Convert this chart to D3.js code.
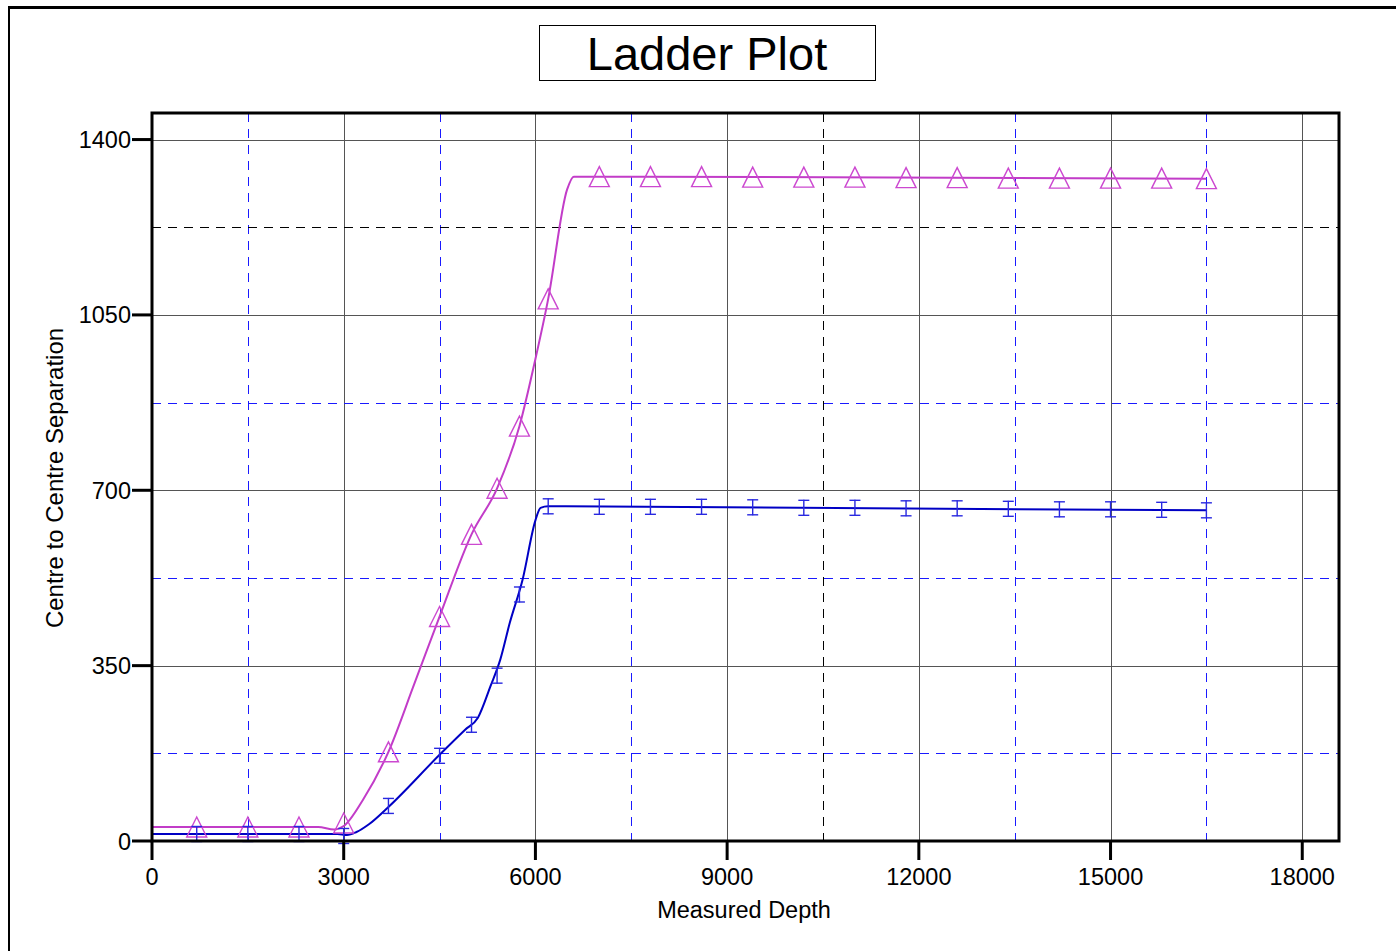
<!DOCTYPE html>
<html>
<head>
<meta charset="utf-8">
<script src="https://cdn.jsdelivr.net/npm/d3@7"></script>
<style>
  body { margin: 0; background: #fff; }
  svg { display: block; font-family: "Liberation Sans", Arial, sans-serif; }
</style>
</head>
<body>
<svg id="chart"></svg>
<script>
// ---- data ----
var xTicks = [0, 3000, 6000, 9000, 12000, 15000, 18000];
var yTicks = [0, 350, 700, 1050, 1400];
var xDashBlue = [1500, 4500, 7500, 13500, 16500];
var xDashBlack = [10500];
var yDashBlue = [175, 525, 875];
var yDashBlack = [1225];

// curve vertices
var pinkLineDepth = [0, 2600, 2850, 3000, 3300, 3700, 4100, 4500, 5000, 5400, 5750, 6000, 6200, 6495, 6600, 16500];
var pinkLineSep   = [28, 28, 23, 30, 82, 178, 312, 448, 612, 704, 828, 962, 1082, 1300, 1326, 1322];
var blueLineDepth = [0, 2900, 3050, 3200, 3400, 3700, 4500, 4900, 5100, 5300, 5450, 5600, 5800, 6000, 6080, 6200, 16500];
var blueLineSep   = [14, 14, 12, 18, 34, 68, 172, 222, 246, 310, 362, 436, 522, 640, 665, 668, 660];

// marker stations
var markerDepth = [700, 1500, 2300, 3000, 3700, 4500, 5000, 5400, 5750, 6200, 7000, 7800, 8600, 9400, 10200, 11000, 11800, 12600, 13400, 14200, 15000, 15800, 16500];
var pinkMarkSep = [28, 28, 28, 36, 178, 448, 612, 704, 828, 1082, 1326, 1326, 1326, 1325, 1325, 1325, 1324, 1324, 1323, 1323, 1323, 1323, 1322];
var blueMarkSep = [14, 14, 14, 10, 70, 170, 232, 330, 492, 668, 667, 667, 667, 666, 665, 665, 664, 664, 663, 662, 662, 661, 660];

var width = 1396,
    height = 951;

var pLeft = 152, pRight = 1339, pTop = 113, pBottom = 841;

var svg = d3.select("#chart")
    .attr("width", width)
    .attr("height", height);

var x = d3.scaleLinear().domain([0, 18575]).range([pLeft, pRight]);
var y = d3.scaleLinear().domain([0, 1453]).range([pBottom, pTop]);

// outer frame
svg.append("line").attr("x1", 9).attr("x2", width).attr("y1", 7.5).attr("y2", 7.5)
    .attr("stroke", "#000").attr("stroke-width", 3);
svg.append("line").attr("x1", 9).attr("x2", 9).attr("y1", 6).attr("y2", height)
    .attr("stroke", "#000").attr("stroke-width", 2);

// title box
svg.append("rect")
    .attr("x", 539.5).attr("y", 25.5).attr("width", 336).attr("height", 55)
    .attr("fill", "none").attr("stroke", "#000").attr("stroke-width", 1);
svg.append("text")
    .attr("x", 707).attr("y", 70)
    .attr("text-anchor", "middle")
    .style("font-size", "47px")
    .text("Ladder Plot");

// grid
var grid = svg.append("g");
grid.selectAll(".gx").data(xTicks.filter(function(d) { return d > 0; })).enter()
    .append("line")
    .attr("x1", function(d) { return Math.round(x(d)) + 0.5; })
    .attr("x2", function(d) { return Math.round(x(d)) + 0.5; })
    .attr("y1", pTop).attr("y2", pBottom)
    .attr("stroke", "#555").attr("stroke-width", 1);
grid.selectAll(".gy").data(yTicks.filter(function(d) { return d > 0; })).enter()
    .append("line")
    .attr("x1", pLeft).attr("x2", pRight)
    .attr("y1", function(d) { return Math.round(y(d)) + 0.5; })
    .attr("y2", function(d) { return Math.round(y(d)) + 0.5; })
    .attr("stroke", "#555").attr("stroke-width", 1);

function vDash(data, col) {
    grid.selectAll(null).data(data).enter()
        .append("line")
        .attr("x1", function(d) { return Math.round(x(d)) + 0.5; })
        .attr("x2", function(d) { return Math.round(x(d)) + 0.5; })
        .attr("y1", pTop).attr("y2", pBottom)
        .attr("stroke", col).attr("stroke-width", 1)
        .attr("stroke-dasharray", "9,7");
}
function hDash(data, col) {
    grid.selectAll(null).data(data).enter()
        .append("line")
        .attr("x1", pLeft).attr("x2", pRight)
        .attr("y1", function(d) { return Math.round(y(d)) + 0.5; })
        .attr("y2", function(d) { return Math.round(y(d)) + 0.5; })
        .attr("stroke", col).attr("stroke-width", 1)
        .attr("stroke-dasharray", "9,7");
}
vDash(xDashBlue, "#1a1aff");
vDash(xDashBlack, "#000");
hDash(yDashBlue, "#1a1aff");
hDash(yDashBlack, "#000");

// lines
var line = d3.line()
    .x(function(d) { return x(d[0]); })
    .y(function(d) { return y(d[1]); })
    .curve(d3.curveMonotoneX);

var pinkPts = pinkLineDepth.map(function(d, i) { return [d, pinkLineSep[i]]; });
var bluePts = blueLineDepth.map(function(d, i) { return [d, blueLineSep[i]]; });

svg.append("path").datum(pinkPts)
    .attr("d", line)
    .attr("fill", "none").attr("stroke", "#c23cc8").attr("stroke-width", 2);
svg.append("path").datum(bluePts)
    .attr("d", line)
    .attr("fill", "none").attr("stroke", "#0000c4").attr("stroke-width", 2);

// triangle markers (20 x 20, centred on the value)
svg.selectAll(".tri").data(markerDepth).enter()
    .append("path")
    .attr("d", "M0,-10L10,10L-10,10Z")
    .attr("transform", function(d, i) { return "translate(" + x(d) + "," + y(pinkMarkSep[i]) + ")"; })
    .attr("fill", "none").attr("stroke", "#cc48d0").attr("stroke-width", 1.4);

// I-bar markers
var bars = svg.selectAll(".ibar").data(markerDepth).enter()
    .append("g")
    .attr("transform", function(d, i) { return "translate(" + x(d) + "," + y(blueMarkSep[i]) + ")"; })
    .attr("stroke", "#2828e0").attr("stroke-width", 1.4);
bars.append("line").attr("x1", 0).attr("x2", 0).attr("y1", -8).attr("y2", 8);
bars.append("line").attr("x1", -5.5).attr("x2", 5.5).attr("y1", -7.5).attr("y2", -7.5);
bars.append("line").attr("x1", -5.5).attr("x2", 5.5).attr("y1", 7.5).attr("y2", 7.5);

// plot frame
svg.append("rect")
    .attr("x", pLeft).attr("y", pTop)
    .attr("width", pRight - pLeft).attr("height", pBottom - pTop)
    .attr("fill", "none").attr("stroke", "#000").attr("stroke-width", 3);

// ticks and labels
svg.selectAll(".xt").data(xTicks).enter()
    .append("line")
    .attr("x1", function(d) { return x(d); }).attr("x2", function(d) { return x(d); })
    .attr("y1", pBottom).attr("y2", 860)
    .attr("stroke", "#000").attr("stroke-width", 3);
svg.selectAll(".xl").data(xTicks).enter()
    .append("text")
    .attr("x", function(d) { return x(d); })
    .attr("y", 885)
    .attr("text-anchor", "middle")
    .style("font-size", "23.5px")
    .text(function(d) { return d; });

svg.selectAll(".yt").data(yTicks).enter()
    .append("line")
    .attr("x1", 132).attr("x2", pLeft)
    .attr("y1", function(d) { return y(d); }).attr("y2", function(d) { return y(d); })
    .attr("stroke", "#000").attr("stroke-width", 3);
svg.selectAll(".yl").data(yTicks).enter()
    .append("text")
    .attr("x", 131)
    .attr("y", function(d) { return y(d) + 8.5; })
    .attr("text-anchor", "end")
    .style("font-size", "23.5px")
    .text(function(d) { return d; });

// axis titles
svg.append("text")
    .attr("x", 744).attr("y", 918)
    .attr("text-anchor", "middle")
    .style("font-size", "23.5px")
    .text("Measured Depth");
svg.append("text")
    .attr("transform", "translate(63,478) rotate(-90)")
    .attr("text-anchor", "middle")
    .style("font-size", "24px")
    .text("Centre to Centre Separation");
</script>
</body>
</html>
